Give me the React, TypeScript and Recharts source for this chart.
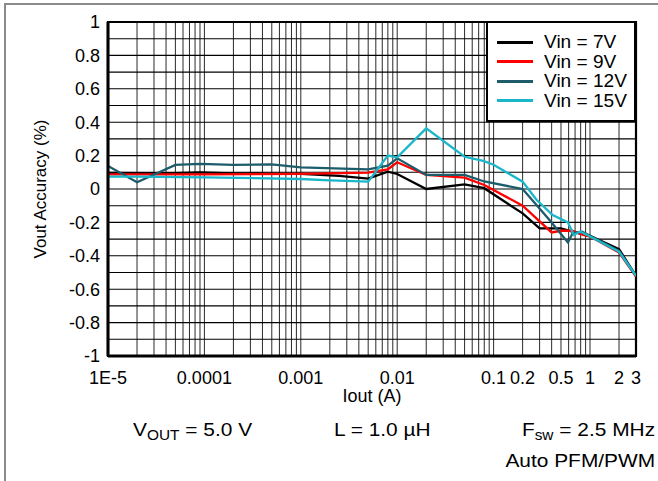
import { LineChart, Line, XAxis, YAxis, CartesianGrid, ReferenceArea } from "recharts";

// Iout (A) / Vout accuracy (%), one pair of arrays per input voltage
const IOUT_7V = [1e-5, 2e-5, 5e-5, 9e-5, 2e-4, 5e-4, 1e-3, 2.5e-3, 5e-3, 8e-3, 1e-2, 2e-2, 5e-2, 8e-2, 0.2, 0.3, 0.5, 0.7, 1, 2, 3];
const ACC_7V = [0.096, 0.095, 0.095, 0.1, 0.094, 0.092, 0.09, 0.078, 0.062, 0.104, 0.09, 0.0, 0.028, 0.005, -0.146, -0.236, -0.236, -0.26, -0.28, -0.36, -0.52];

const IOUT_9V = [1e-5, 1e-4, 1e-3, 5e-3, 8e-3, 1e-2, 2e-2, 5e-2, 8e-2, 0.2, 0.4, 0.5, 0.65, 0.85, 1, 2, 3];
const ACC_9V = [0.088, 0.088, 0.09, 0.098, 0.118, 0.16, 0.084, 0.068, 0.024, -0.1, -0.26, -0.25, -0.25, -0.275, -0.285, -0.38, -0.525];

const IOUT_12V = [1e-5, 2e-5, 5e-5, 9e-5, 2e-4, 5e-4, 1e-3, 5e-3, 8e-3, 1e-2, 2e-2, 5e-2, 8e-2, 0.2, 0.38, 0.59, 0.66, 0.83, 1, 2, 3];
const ACC_12V = [0.138, 0.04, 0.144, 0.15, 0.144, 0.148, 0.13, 0.118, 0.14, 0.184, 0.084, 0.084, 0.045, 0.0, -0.186, -0.32, -0.265, -0.255, -0.28, -0.37, -0.52];

const IOUT_15V = [1e-5, 2e-5, 1e-4, 1e-3, 2e-3, 5e-3, 8e-3, 1e-2, 2e-2, 5e-2, 7.8e-2, 0.1, 0.2, 0.28, 0.41, 0.59, 0.68, 0.79, 1, 2, 3];
const ACC_15V = [0.074, 0.074, 0.07, 0.06, 0.052, 0.044, 0.2, 0.19, 0.363, 0.193, 0.168, 0.145, 0.044, -0.066, -0.156, -0.2, -0.275, -0.255, -0.285, -0.375, -0.52];

const SERIES = [
  { name: "Vin = 7V", color: "#000000", iout: IOUT_7V, acc: ACC_7V },
  { name: "Vin = 9V", color: "#ff0000", iout: IOUT_9V, acc: ACC_9V },
  { name: "Vin = 12V", color: "#1d5c6b", iout: IOUT_12V, acc: ACC_12V },
  { name: "Vin = 15V", color: "#19b7c9", iout: IOUT_15V, acc: ACC_15V },
];

const X_LABELS = [1e-5, 1e-4, 1e-3, 0.01, 0.1, 0.2, 0.5, 1, 2, 3];
const X_LABEL_TEXT = ["1E-5", "0.0001", "0.001", "0.01", "0.1", "0.2", "0.5", "1", "2", "3"];
const DECADES = [1e-5, 1e-4, 1e-3, 1e-2, 1e-1, 1];
const MULTS = [1, 2, 3, 4, 5, 6, 7, 8, 9];
const X_MAX = 3;

const Y_TICKS = [-1, -0.9, -0.8, -0.7, -0.6, -0.5, -0.4, -0.3, -0.2, -0.1, 0, 0.1, 0.2, 0.3, 0.4, 0.5, 0.6, 0.7, 0.8, 0.9, 1];

const FONT = '"Liberation Sans", Arial, sans-serif';

// grid positions: every 1..9 multiple of each decade up to 3 A
const xTicks = DECADES.flatMap((d) => MULTS.map((m) => m * d)).filter((v) => v <= X_MAX * 1.0001);

const fmtX = (v: number) => {
  const i = X_LABELS.findIndex((l) => Math.abs(v / l - 1) < 1e-6);
  return i >= 0 ? X_LABEL_TEXT[i] : "";
};

const fmtY = (v: number) => {
  const t = Math.round(v * 10);
  return t % 2 === 0 ? String(t / 10) : "";
};

const tickStyle = { fontSize: 18, fill: "#000", fontFamily: FONT };

export default function App() {
  const lines = SERIES.map((s) => ({
    ...s,
    data: s.iout.map((x, i) => ({ x, y: s.acc[i] })),
  }));

  return (
    <div style={{ position: "absolute", left: 0, top: 0, width: 658, height: 481, background: "#fff", fontFamily: FONT, overflow: "hidden" }}>
      <div style={{ position: "absolute", left: 4, top: 3, width: 700, height: 520, borderLeft: "2px solid #8a8a8a", borderTop: "2px solid #8a8a8a" }} />

      <LineChart width={658} height={481} margin={{ top: 22, right: 22, left: 38, bottom: 75 }}>
        <CartesianGrid horizontal={false} stroke="#2a2a2a" strokeWidth={1} />
        <CartesianGrid vertical={false} stroke="#000" strokeWidth={1.1} />
        <XAxis
          dataKey="x"
          type="number"
          scale="log"
          domain={[1e-5, X_MAX]}
          allowDataOverflow
          ticks={xTicks}
          interval={0}
          tickFormatter={fmtX}
          tick={tickStyle}
          tickLine={false}
          axisLine={{ stroke: "#000", strokeWidth: 3 }}
          tickSize={6}
          tickMargin={9}
          height={50}
          label={{ value: "Iout (A)", position: "insideBottom", offset: 4, style: { fontSize: 18, fill: "#000", fontFamily: FONT } }}
        />
        <YAxis
          type="number"
          domain={[-1, 1]}
          ticks={Y_TICKS}
          interval={0}
          tickFormatter={fmtY}
          tick={tickStyle}
          tickLine={false}
          axisLine={{ stroke: "#000", strokeWidth: 3 }}
          width={70}
          label={{ value: "Vout Accuracy (%)", angle: -90, position: "insideLeft", offset: 2, style: { fontSize: 17, fill: "#000", fontFamily: FONT, textAnchor: "middle" } }}
        />
        {lines.map((s) => (
          <Line
            key={s.name}
            data={s.data}
            dataKey="y"
            name={s.name}
            stroke={s.color}
            strokeWidth={2.3}
            dot={false}
            activeDot={false}
            isAnimationActive={false}
          />
        ))}
        <ReferenceArea x1={1e-5} x2={X_MAX} y1={-1} y2={1} fill="none" stroke="#000" strokeWidth={2.2} ifOverflow="visible" />
      </LineChart>

      {/* legend box */}
      <div style={{ position: "absolute", left: 486, top: 21, width: 146, height: 97, background: "#fff", border: "2.5px solid #000", boxSizing: "content-box" }}>
        {SERIES.map((s, i) => (
          <div key={s.name} style={{ position: "absolute", left: 9, top: 9 + i * 19.5, height: 20, display: "flex", alignItems: "center" }}>
            <div style={{ width: 36, height: 3, background: s.color }} />
            <span style={{ marginLeft: 11, fontSize: 18, lineHeight: "20px", whiteSpace: "nowrap", display: "inline-block", transform: "scaleX(1.06)", transformOrigin: "left center" }}>{s.name}</span>
          </div>
        ))}
      </div>

      {/* condition notes */}
      <div style={{ position: "absolute", left: 133, top: 420, fontSize: 19, lineHeight: 1, whiteSpace: "nowrap", transform: "scaleX(1.1)", transformOrigin: "left top" }}>
        V<span style={{ fontSize: 14, position: "relative", top: 4 }}>OUT</span> = 5.0 V
      </div>
      <div style={{ position: "absolute", left: 334, top: 420, fontSize: 19, lineHeight: 1, whiteSpace: "nowrap", transform: "scaleX(1.1)", transformOrigin: "left top" }}>
        L = 1.0 µH
      </div>
      <div style={{ position: "absolute", right: 3, top: 420, fontSize: 19, lineHeight: 1, whiteSpace: "nowrap", transform: "scaleX(1.1)", transformOrigin: "right top" }}>
        F<span style={{ fontSize: 14, position: "relative", top: 4 }}>sw</span> = 2.5 MHz
      </div>
      <div style={{ position: "absolute", right: 3, top: 451, fontSize: 19, lineHeight: 1, whiteSpace: "nowrap", transform: "scaleX(1.1)", transformOrigin: "right top" }}>
        Auto PFM/PWM
      </div>
    </div>
  );
}
